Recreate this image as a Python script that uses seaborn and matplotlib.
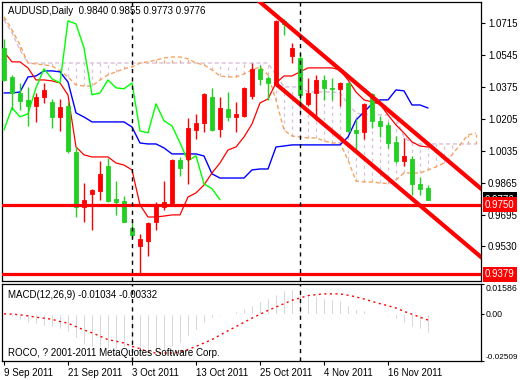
import numpy as np
import pandas as pd
import matplotlib
matplotlib.use("Agg")
import matplotlib.pyplot as plt
import seaborn as sns

# --- AUDUSD daily bars, 9 Sep 2011 .. 23 Nov 2011 ---
opens = [1.0582, 1.0428, 1.0343, 1.0306, 1.0274, 1.0322, 1.0296, 1.0216, 1.0274, 1.0030,
         0.9738, 0.9807, 0.9823, 0.9956, 0.9780, 0.9770, 0.9627, 0.9531, 0.9557, 0.9658,
         0.9738, 0.9754, 0.9988, 0.9993, 1.0147, 1.0184, 1.0322, 1.0152, 1.0258, 1.0216,
         1.0221, 1.0327, 1.0471, 1.0423, 1.0391, 1.0726, 1.0540, 1.0529, 1.0285, 1.0343,
         1.0412, 1.0370, 1.0365, 1.0396, 1.0147, 1.0136, 1.0338, 1.0195, 1.0173, 1.0083,
         0.9982, 0.9993, 0.9860, 0.9840]
highs = [1.0630, 1.0439, 1.0396, 1.0375, 1.0343, 1.0396, 1.0311, 1.0311, 1.0296, 1.0057,
         0.9865, 0.9834, 0.9982, 0.9998, 0.9876, 0.9796, 0.9669, 0.9595, 0.9658, 0.9765,
         0.9876, 0.9993, 1.0004, 1.0210, 1.0232, 1.0343, 1.0370, 1.0322, 1.0349, 1.0296,
         1.0375, 1.0503, 1.0492, 1.0434, 1.0730, 1.0735, 1.0609, 1.0556, 1.0423, 1.0439,
         1.0439, 1.0423, 1.0402, 1.0402, 1.0205, 1.0290, 1.0343, 1.0221, 1.0189, 1.0115,
         1.0104, 1.0009, 0.9897, 0.9855]
lows = [1.0405, 1.0253, 1.0253, 1.0168, 1.0189, 1.0290, 1.0157, 1.0141, 1.0025, 0.9685,
        0.9658, 0.9616, 0.9775, 0.9765, 0.9695, 0.9655, 0.9573, 0.9379, 0.9478, 0.9616,
        0.9722, 0.9750, 0.9902, 0.9860, 1.0099, 1.0136, 1.0141, 1.0110, 1.0195, 1.0136,
        1.0216, 1.0311, 1.0386, 1.0306, 1.0386, 1.0651, 1.0503, 1.0269, 1.0274, 1.0200,
        1.0306, 1.0306, 1.0274, 1.0136, 1.0046, 1.0099, 1.0157, 1.0110, 1.0051, 0.9972,
        0.9956, 0.9802, 0.9802, 0.9773]
closes = [1.0412, 1.0343, 1.0301, 1.0274, 1.0322, 1.0359, 1.0216, 1.0269, 1.0035, 0.9738,
          0.9775, 0.9828, 0.9913, 0.9770, 0.9765, 0.9658, 0.9589, 0.9568, 0.9653, 0.9749,
          0.9765, 0.9988, 0.9945, 1.0157, 1.0184, 1.0338, 1.0147, 1.0264, 1.0216, 1.0232,
          1.0370, 1.0471, 1.0418, 1.0396, 1.0726, 1.0710, 1.0582, 1.0333, 1.0343, 1.0412,
          1.0370, 1.0365, 1.0396, 1.0141, 1.0131, 1.0285, 1.0195, 1.0168, 1.0078, 0.9982,
          1.0009, 0.9860, 0.9834, 0.9776]

# Ichimoku lines
tenkan = [1.0561, 1.0508, 1.0508, 1.0476, 1.0412, 1.0412, 1.0407, 1.0396, 1.0332, 1.0056,
          1.0014, 1.0003, 1.0003, 1.0003, 0.9971, 0.9960, 0.9934, 0.9748, 0.9684, 0.9684,
          0.9689, 0.9695, 0.9695, 0.9790, 0.9812, 0.9854, 0.9918, 0.9971, 1.0040, 1.0056,
          1.0109, 1.0178, 1.0290, 1.0311, 1.0396, 1.0433, 1.0433, 1.0455, 1.0476, 1.0476,
          1.0476, 1.0476, 1.0465, 1.0412, 1.0348, 1.0306, 1.0295, 1.0284, 1.0226, 1.0173,
          1.0130, 1.0083, 1.0061, 1.0056]
kijun = [1.0343, 1.0343, 1.0348, 1.0428, 1.0433, 1.0460, 1.0460, 1.0455, 1.0401, 1.0237,
         1.0215, 1.0189, 1.0189, 1.0189, 1.0189, 1.0189, 1.0162, 1.0077, 1.0072, 1.0072,
         1.0051, 1.0019, 1.0019, 1.0019, 1.0019, 1.0008, 0.9913, 0.9891, 0.9891, 0.9891,
         0.9891, 0.9934, 0.9939, 0.9939, 1.0056, 1.0061, 1.0067, 1.0067, 1.0067, 1.0067,
         1.0067, 1.0067, 1.0067, 1.0109, 1.0199, 1.0242, 1.0284, 1.0306, 1.0306, 1.0359,
         1.0354, 1.0279, 1.0279, 1.0263]
senkou_a = [1.0747, 1.0678, 1.0598, 1.0502, 1.0497, 1.0492, 1.0486, 1.0460, 1.0428, 1.0385,
            1.0380, 1.0380, 1.0412, 1.0439, 1.0455, 1.0471, 1.0481, 1.0502, 1.0508, 1.0518,
            1.0529, 1.0534, 1.0534, 1.0524, 1.0502, 1.0492, 1.0465, 1.0433, 1.0428, 1.0428,
            1.0444, 1.0465, 1.0481, 1.0439, 1.0306, 1.0146, 1.0114, 1.0109, 1.0104, 1.0104,
            1.0088, 1.0077, 1.0077, 0.9987, 0.9875, 0.9870, 0.9870, 0.9865, 0.9861, 0.9881,
            0.9918, 0.9918, 0.9918, 0.9934, 0.9950, 0.9971, 1.0014, 1.0067, 1.0120, 1.0130]
senkou_b = [1.0731, 1.0662, 1.0571] + [1.0502] * 31 + \
           [1.0439, 1.0375, 1.0375, 1.0375, 1.0348, 1.0348, 1.0348, 1.0348, 1.0343, 1.0284,
            1.0237, 1.0226, 1.0231, 1.0226, 1.0226, 1.0210, 1.0109, 1.0077] + [1.0072] * 8

# MACD(12,26,9)
macd_main = [-0.0011, -0.0018, -0.0032, -0.0047, -0.0056, -0.0065, -0.0072, -0.0081, -0.0099, -0.0129,
             -0.0158, -0.0176, -0.0176, -0.0185, -0.0185, -0.0176, -0.0185, -0.0203, -0.0208, -0.0203,
             -0.0194, -0.0176, -0.0155, -0.0119, -0.0086, -0.0047, -0.0023, -0.0011, -0.0004, 0.0013,
             0.0031, 0.0049, 0.0066, 0.0084, 0.0108, 0.0126, 0.0133, 0.0115, 0.0102, 0.0097,
             0.0084, 0.0079, 0.0072, 0.0049, 0.0025, 0.0018, 0.0007, 0.0002, -0.0011, -0.0029,
             -0.0047, -0.0068, -0.0083, -0.01034]
macd_signal = [0.0000, -0.0002, -0.0005, -0.0011, -0.0018, -0.0023, -0.0029, -0.0041, -0.0050, -0.0068,
               -0.0086, -0.0101, -0.0119, -0.0137, -0.0146, -0.0155, -0.0173, -0.0185, -0.0203, -0.0208,
               -0.0208, -0.0208, -0.0203, -0.0190, -0.0173, -0.0155, -0.0137, -0.0113, -0.0090, -0.0068,
               -0.0045, -0.0023, -0.0002, 0.0018, 0.0036, 0.0054, 0.0072, 0.0084, 0.0097, 0.0102,
               0.0106, 0.0106, 0.0106, 0.0099, 0.0090, 0.0079, 0.0066, 0.0054, 0.0043, 0.0031,
               0.0013, -0.0002, -0.0018, -0.00332]

# drawn objects
levels = [0.9750, 0.9379]
vline_bars = [16, 37]
upper_line_bars = [31, 60]
upper_line_prices = [1.0862, 0.9821]
lower_line_bars = [34, 60]
lower_line_prices = [1.0391, 0.9458]

price_ticks = [1.0715, 1.0545, 1.0375, 1.0205, 1.0035, 0.9865, 0.9695, 0.9530]
macd_ticks = [0.01586, 0.0, -0.02509]
macd_tick_labels = ["0.01586", "0.00", "-0.02509"]
date_bars = [0, 8, 16, 24, 32, 40, 48]
date_labels = ["9 Sep 2011", "21 Sep 2011", "3 Oct 2011", "13 Oct 2011",
               "25 Oct 2011", "4 Nov 2011", "16 Nov 2011"]

BULL = "#ff0000"
BEAR = "#22d022"


def main():
    sns.set_style("white")
    plt.rcParams["font.family"] = ["Liberation Sans", "DejaVu Sans"]
    fs = 7

    n = len(closes)
    bars = np.arange(n)
    df = pd.DataFrame({"bar": bars, "open": opens, "high": highs, "low": lows, "close": closes,
                       "tenkan": tenkan, "kijun": kijun,
                       "macd": macd_main, "signal": macd_signal})
    cloud = pd.DataFrame({"bar": np.arange(len(senkou_a)), "a": senkou_a, "b": senkou_b})
    chikou = pd.DataFrame({"bar": bars[:n - 26], "close": closes[26:]})

    fig = plt.figure(figsize=(5.2, 3.8), dpi=100)
    ax = fig.add_axes([2 / 520, 1 - 281 / 380, 479 / 520, 279 / 380])
    axm = fig.add_axes([2 / 520, 1 - 361 / 380, 479 / 520, 77 / 380], sharex=ax)

    # --- cloud hatch + spans ---
    lo = np.minimum(cloud["a"], cloud["b"])
    hi = np.maximum(cloud["a"], cloud["b"])
    hatch_col = np.where(cloud["b"] > cloud["a"], "#d8bfd8", "#f4a460")
    ax.vlines(cloud["bar"], lo, hi, colors=hatch_col, linestyles=(0, (2.5, 3)), lw=0.9, zorder=1)
    sns.lineplot(data=cloud, x="bar", y="b", ax=ax, color="#d8bfd8", lw=1,
                 linestyle=(0, (3, 2)), zorder=2)
    sns.lineplot(data=cloud, x="bar", y="a", ax=ax, color="#f4a460", lw=1,
                 linestyle=(0, (3, 2)), zorder=2)

    # --- tenkan / kijun / chikou ---
    sns.lineplot(data=df, x="bar", y="kijun", ax=ax, color="#0000ff", lw=1, zorder=3)
    sns.lineplot(data=df, x="bar", y="tenkan", ax=ax, color="#ff0000", lw=0.9, zorder=3)
    sns.lineplot(data=chikou, x="bar", y="close", ax=ax, color="#00ff00", lw=1, zorder=3)

    # --- candles ---
    up = df["close"] >= df["open"]
    colors = np.where(up, BULL, BEAR)
    ax.vlines(df["bar"], df["low"], df["high"], colors=colors, lw=1, zorder=4)
    ax.bar(df["bar"], df["close"] - df["open"], bottom=df["open"], width=0.6,
           color=colors, edgecolor=colors, lw=0.6, zorder=5)

    # --- drawn objects ---
    for lv in levels:
        ax.axhline(lv, color="#ff0000", lw=2.3, zorder=6)
    ax.plot(upper_line_bars, upper_line_prices, color="#ff0000", lw=3, zorder=6)
    ax.plot(lower_line_bars, lower_line_prices, color="#ff0000", lw=3, zorder=6)
    for vb in vline_bars:
        ax.axvline(vb, color="black", lw=1, linestyle=(0, (3, 3)), zorder=7)
        axm.axvline(vb, color="black", lw=1, linestyle=(0, (3, 3)), zorder=7)

    ax.set_xlim(-0.25, 59.625)
    ax.set_ylim(0.9344, 1.0826)
    ax.set_xlabel("")
    ax.set_ylabel("")
    ax.yaxis.tick_right()
    ax.set_yticks(price_ticks)
    ax.set_yticklabels([f"{v:.4f}" for v in price_ticks])
    ax.tick_params(axis="y", right=True, length=3, width=0.8, pad=2, labelsize=fs,
                   colors="black", direction="out")
    ax.tick_params(axis="x", bottom=False, labelbottom=False)

    # price flags on the right (last price sits under the 0.9750 flag, as in MT4)
    ytr = ax.get_yaxis_transform()
    ax.text(1.0 + 4 / 479, closes[-1], f"{closes[-1]:.4f}", transform=ytr, ha="left",
            va="center", color="white", fontsize=fs, clip_on=False, zorder=8,
            bbox=dict(boxstyle="square,pad=0.25", fc="black", ec="none"))
    for lv in levels:
        ax.text(1.0 + 4 / 479, lv, f"{lv:.4f}", transform=ytr, ha="left", va="center",
                color="white", fontsize=fs, clip_on=False, zorder=9,
                bbox=dict(boxstyle="square,pad=0.25", fc="#ff0000", ec="none"))

    ax.text(0.012, 0.985, "AUDUSD,Daily  0.9840 0.9855 0.9773 0.9776",
            transform=ax.transAxes, ha="left", va="top", fontsize=fs, color="black", zorder=10)

    # --- MACD panel ---
    axm.bar(df["bar"], df["macd"], width=0.22, color="#c0c0c0", zorder=2)
    sns.lineplot(data=df, x="bar", y="signal", ax=axm, color="#ff0000", lw=1,
                 linestyle=(0, (1.5, 2.5)), zorder=3)
    axm.set_ylim(-0.02509, 0.01586)
    axm.set_xlabel("")
    axm.set_ylabel("")
    axm.yaxis.tick_right()
    axm.set_yticks(macd_ticks)
    axm.set_yticklabels(macd_tick_labels)
    axm.tick_params(axis="y", right=True, length=2.5, width=0.8, pad=0.8, labelsize=6.3,
                    colors="black", direction="out")
    tl = axm.get_yticklabels()
    tl[0].set_va("top")
    tl[2].set_va("bottom")
    tl[2].set_fontsize(5.9)
    axm.set_xticks(date_bars)
    axm.set_xticklabels(date_labels, ha="left")
    axm.tick_params(axis="x", bottom=True, length=3, width=0.8, pad=2, labelsize=fs,
                    colors="black", direction="out")
    axm.text(0.012, 0.92, "MACD(12,26,9) -0.01034 -0.00332", transform=axm.transAxes,
             ha="left", va="top", fontsize=fs, color="black", zorder=10)
    axm.text(0.012, 0.04, "ROCO, ? 2001-2011 MetaQuotes Software Corp.",
             transform=axm.transAxes, ha="left", va="bottom", fontsize=fs,
             color="black", zorder=10)

    for a in (ax, axm):
        for sp in a.spines.values():
            sp.set_color("black")
            sp.set_linewidth(0.9)
            sp.set_visible(True)
        a.grid(False)

    fig.savefig("out.png", dpi=100)


if __name__ == "__main__":
    main()
